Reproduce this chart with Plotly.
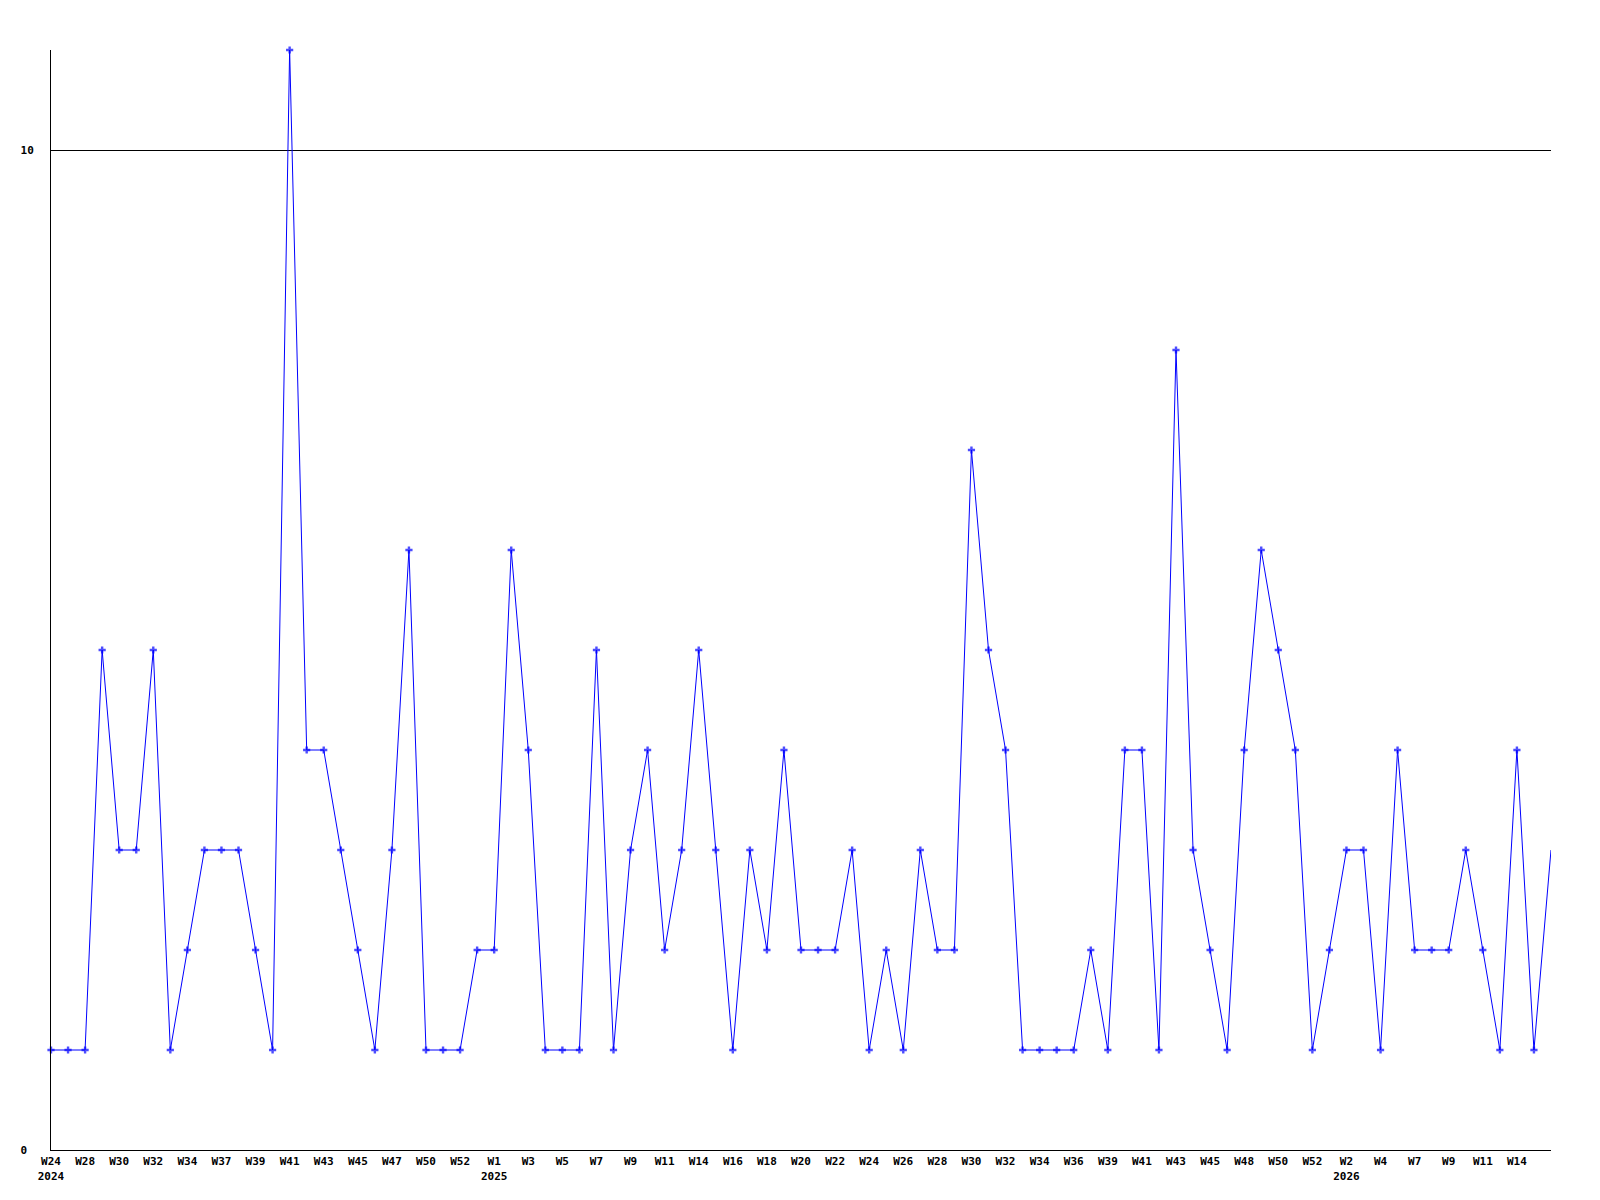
import plotly.graph_objects as go

# Weekly values (one per point, in order)
values = [1, 1, 1, 5, 3, 3, 5, 1, 2, 3,
          3, 3, 2, 1, 11, 4, 4, 3, 2, 1,
          3, 6, 1, 1, 1, 2, 2, 6, 4, 1,
          1, 1, 5, 1, 3, 4, 2, 3, 5, 3,
          1, 3, 2, 4, 2, 2, 2, 3, 1, 2,
          1, 3, 2, 2, 7, 5, 4, 1, 1, 1,
          1, 2, 1, 4, 4, 1, 8, 3, 2, 1,
          4, 6, 5, 4, 1, 2, 3, 3, 1, 4,
          2, 2, 2, 3, 2, 1, 4, 1, 3]

# Week labels shown under every other point
week_labels = ["W24", "W28", "W30", "W32", "W34", "W37", "W39", "W41", "W43", "W45",
               "W47", "W50", "W52", "W1", "W3", "W5", "W7", "W9", "W11", "W14",
               "W16", "W18", "W20", "W22", "W24", "W26", "W28", "W30", "W32", "W34",
               "W36", "W39", "W41", "W43", "W45", "W48", "W50", "W52", "W2", "W4",
               "W7", "W9", "W11", "W14"]
# Year shown below the first week label of each year
year_labels = {"W24#0": "2024", "W1#13": "2025", "W2#38": "2026"}

y_ticks = [0, 10]

x = list(range(len(values)))
label_step = 2
tickvals = [i * label_step for i in range(len(week_labels))]
ticktext = []
for i, w in enumerate(week_labels):
    yr = year_labels.get(f"{w}#{i}")
    ticktext.append(f"{w}<br>{yr}" if yr else w)

marker_sizes = [6] * (len(values) - 1) + [0]

fig = go.Figure()
fig.add_trace(go.Scatter(
    x=x, y=values, mode="lines+markers",
    line=dict(color="#0000ff", width=1),
    marker=dict(symbol="cross", size=marker_sizes, color="#0000ff", line=dict(width=0)),
    hoverinfo="skip", showlegend=False, cliponaxis=False,
))

font = dict(family="DejaVu Sans Mono", size=11, color="black", weight="bold")

# page body has an 8px default margin, so the figure is sized to fit within it
fig.update_layout(
    width=1584, height=1184,
    margin=dict(l=43, r=41, t=42, b=42, pad=0, autoexpand=False),
    paper_bgcolor="white", plot_bgcolor="white",
    xaxis=dict(range=[0, len(values) - 1], showgrid=False, zeroline=False,
               showline=True, linecolor="black", linewidth=1, automargin=False,
               tickmode="array", tickvals=tickvals, ticktext=ticktext,
               ticks="", tickfont=font, tickangle=0, ticklabelstandoff=1,
               fixedrange=True),
    yaxis=dict(range=[0, 11], showgrid=True, gridcolor="black", gridwidth=1,
               zeroline=False, showline=True, linecolor="black", linewidth=1,
               automargin=False,
               tickmode="array", tickvals=y_ticks,
               ticktext=[str(t).ljust(2, "\u00a0") for t in y_ticks],
               ticks="", tickfont=font, ticklabelstandoff=14, fixedrange=True),
)

fig.write_html("out.html")
